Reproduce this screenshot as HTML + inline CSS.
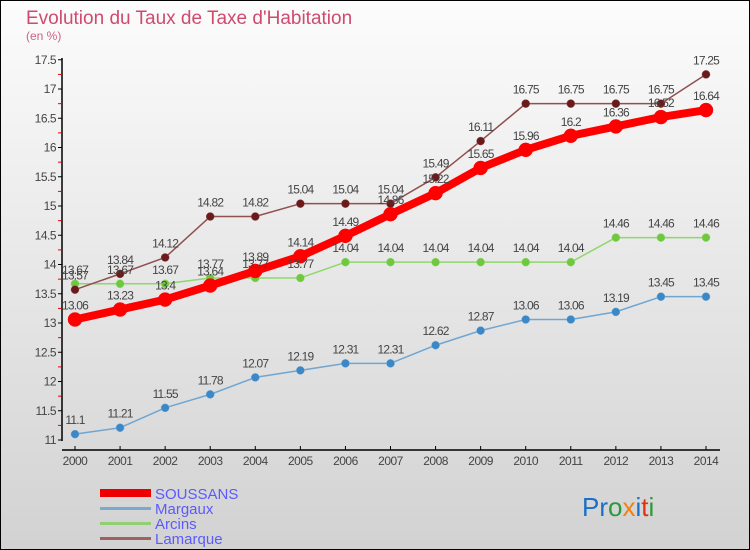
<!DOCTYPE html>
<html><head><meta charset="utf-8"><style>
html,body{margin:0;padding:0}
body{width:750px;height:550px;overflow:hidden}
svg{display:block;font-family:"Liberation Sans",sans-serif}
</style></head><body>
<svg id="chart" width="750" height="550" xmlns="http://www.w3.org/2000/svg">
<defs><linearGradient id="bg" x1="0" y1="0" x2="0" y2="1"><stop offset="0" stop-color="#fcfcfc"/><stop offset="1" stop-color="#d2d2d2"/></linearGradient></defs>
<rect x="0.5" y="0.5" width="749" height="549" fill="url(#bg)" stroke="#000"/>
<text x="26" y="24" font-size="19" fill="#d04a70">Evolution du Taux de Taxe d'Habitation</text>
<text x="26" y="40" font-size="12" fill="#d06088">(en %)</text>
<g id="plot"></g>
<g>
<rect x="100" y="489" width="51" height="8" fill="#e00"/>
<text x="155" y="499" font-size="15" fill="#5a5aff">SOUSSANS</text>
<rect x="100" y="507" width="51" height="3" fill="#7aaad0"/>
<text x="155" y="514" font-size="15" fill="#5a5aff">Margaux</text>
<rect x="100" y="522" width="51" height="3" fill="#90d070"/>
<text x="155" y="529" font-size="15" fill="#5a5aff">Arcins</text>
<rect x="100" y="537" width="51" height="3" fill="#a06060"/>
<text x="155" y="544" font-size="15" fill="#5a5aff">Lamarque</text>
</g>
<text x="582" y="516" font-size="26"><tspan fill="#1a70c8">Pr</tspan><tspan fill="#2a9a3a">o</tspan><tspan fill="#f08010">x</tspan><tspan fill="#1a70c8">i</tspan><tspan fill="#e03010">t</tspan><tspan fill="#2a9a3a">i</tspan></text>
</svg>
<script>
const years=[2000,2001,2002,2003,2004,2005,2006,2007,2008,2009,2010,2011,2012,2013,2014];
const yTicks=[11,11.5,12,12.5,13,13.5,14,14.5,15,15.5,16,16.5,17,17.5];
const soussans=[13.06,13.23,13.4,13.64,13.89,14.14,14.49,14.86,15.22,15.65,15.96,16.2,16.36,16.52,16.64];
const margaux=[11.1,11.21,11.55,11.78,12.07,12.19,12.31,12.31,12.62,12.87,13.06,13.06,13.19,13.45,13.45];
const arcins=[13.67,13.67,13.67,13.77,13.77,13.77,14.04,14.04,14.04,14.04,14.04,14.04,14.46,14.46,14.46];
const lamarque=[13.57,13.84,14.12,14.82,14.82,15.04,15.04,15.04,15.49,16.11,16.75,16.75,16.75,16.75,17.25];
const NS="http://www.w3.org/2000/svg";
const g=document.getElementById('plot');
const xs=i=>75+i*(706-75)/(years.length-1);
const ys=v=>440-(v-11)*58.5;
function el(t,a){const e=document.createElementNS(NS,t);for(const k in a)e.setAttribute(k,a[k]);g.appendChild(e);return e;}
let ax=el('line',{x1:62,y1:58,x2:62,y2:441,stroke:'#000','stroke-width':1.5});


let xa=el('line',{x1:62,y1:450,x2:720,y2:450,stroke:'#000','stroke-width':1.5});


yTicks.forEach(v=>{
 const y=ys(v);
 el('line',{x1:58,y1:y,x2:62,y2:y,stroke:'#000'});
 if(v<17.5) el('line',{x1:58,y1:y-14.6,x2:61,y2:y-14.6,stroke:'#e00'});
 const t=el('text',{x:56,y:y+4,'font-size':12,'text-anchor':'end',fill:'#444','letter-spacing':'-0.5'});
 
 
 t.textContent=String(v);
});
years.forEach((yr,i)=>{
 const x=xs(i);
 el('line',{x1:x,y1:446,x2:x,y2:450,stroke:'#000'});
 const t=el('text',{x:x,y:465,'font-size':12,'text-anchor':'middle',fill:'#444','letter-spacing':'-0.5'});
 
 
 t.textContent=String(yr);
});
function series(name,data,color,dot,w,r){
 const pts=data.map((v,i)=>xs(i)+','+ys(v)).join(' ');
 const l=el('polyline',{points:pts,fill:'none',stroke:color,'stroke-width':w,'stroke-linejoin':'round'});
 
 
 data.forEach((v,i)=>{
  const c=el('circle',{cx:xs(i),cy:ys(v),r:r,fill:dot,stroke:color,'stroke-width':0.5});
  
  
 });
}
function labels(name,data){
 data.forEach((v,i)=>{
  const t=el('text',{x:xs(i),y:ys(v)-10,'font-size':12,'text-anchor':'middle',fill:'#444','letter-spacing':'-0.8'});
  
  
  t.textContent=String(v);
 });
}
series('margaux',margaux,'#6fa6d2','#3a88c8',1.5,4);
series('arcins',arcins,'#8ed86a','#70c840',1.5,4);
series('lamarque',lamarque,'#905050','#6a1a1a',1.5,4);
series('soussans',soussans,'#f00','#f00',8,7);
labels('margaux',margaux);labels('arcins',arcins);labels('lamarque',lamarque);labels('soussans',soussans);
</script>
</body></html>
